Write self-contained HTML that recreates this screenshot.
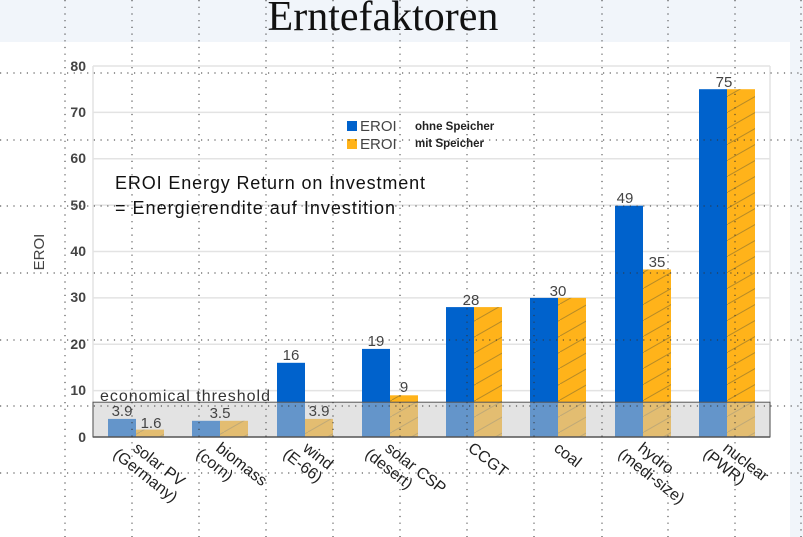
<!DOCTYPE html>
<html><head><meta charset="utf-8"><style>
html,body{margin:0;padding:0;background:#fff;}
svg{display:block;}
</style></head><body>
<svg width="803" height="537" viewBox="0 0 803 537" xmlns="http://www.w3.org/2000/svg" font-family="Liberation Sans, sans-serif">
<defs>
<pattern id="h" patternUnits="userSpaceOnUse" width="28" height="16">
<line x1="0" y1="16" x2="28" y2="0" stroke="#9a7a2a" stroke-width="1" opacity="0.7"/>
</pattern>
</defs>
<rect x="0" y="0" width="803" height="42" fill="#f1f5fa"/>
<rect x="790" y="42" width="13" height="495" fill="#f1f5fa"/>
<text x="383" y="30" text-anchor="middle" font-family="Liberation Serif, serif" font-size="42" fill="#111">Erntefaktoren</text>
<g stroke="#e3e3e3" stroke-width="1.5">
<line x1="93" y1="66" x2="770" y2="66"/><line x1="93" y1="112.4" x2="770" y2="112.4"/>
<line x1="93" y1="158.8" x2="770" y2="158.8"/><line x1="93" y1="205.1" x2="770" y2="205.1"/>
<line x1="93" y1="251.5" x2="770" y2="251.5"/><line x1="93" y1="297.9" x2="770" y2="297.9"/>
<line x1="93" y1="344.3" x2="770" y2="344.3"/><line x1="93" y1="390.6" x2="770" y2="390.6"/>
<line x1="93" y1="66" x2="93" y2="437"/><line x1="770" y1="66" x2="770" y2="437"/>
</g>
<g font-size="14" fill="#444" text-anchor="end" font-weight="bold">
<text x="86" y="71">80</text><text x="86" y="117">70</text><text x="86" y="163">60</text>
<text x="86" y="210">50</text><text x="86" y="256">40</text><text x="86" y="302">30</text>
<text x="86" y="349">20</text><text x="86" y="395">10</text><text x="86" y="442">0</text>
</g>
<text x="44" y="252" transform="rotate(-90 44 252)" text-anchor="middle" font-size="15" fill="#444">EROI</text>
<g>
<rect x="108" y="418.9" width="28" height="18.1" fill="#0062cc"/>
<rect x="136" y="429.6" width="28" height="7.4" fill="#ffb31a"/><rect x="136" y="429.6" width="28" height="7.4" fill="url(#h)"/>
<rect x="192" y="420.8" width="28" height="16.2" fill="#0062cc"/>
<rect x="220" y="420.8" width="28" height="16.2" fill="#ffb31a"/><rect x="220" y="420.8" width="28" height="16.2" fill="url(#h)"/>
<rect x="277" y="362.8" width="28" height="74.2" fill="#0062cc"/>
<rect x="305" y="418.9" width="28" height="18.1" fill="#ffb31a"/><rect x="305" y="418.9" width="28" height="18.1" fill="url(#h)"/>
<rect x="362" y="348.9" width="28" height="88.1" fill="#0062cc"/>
<rect x="390" y="395.3" width="28" height="41.7" fill="#ffb31a"/><rect x="390" y="395.3" width="28" height="41.7" fill="url(#h)"/>
<rect x="446" y="307.1" width="28" height="129.9" fill="#0062cc"/>
<rect x="474" y="307.1" width="28" height="129.9" fill="#ffb31a"/><rect x="474" y="307.1" width="28" height="129.9" fill="url(#h)"/>
<rect x="530" y="297.9" width="28" height="139.1" fill="#0062cc"/>
<rect x="558" y="297.9" width="28" height="139.1" fill="#ffb31a"/><rect x="558" y="297.9" width="28" height="139.1" fill="url(#h)"/>
<rect x="615" y="205.7" width="28" height="231.3" fill="#0062cc"/>
<rect x="643" y="269.5" width="28" height="167.5" fill="#ffb31a"/><rect x="643" y="269.5" width="28" height="167.5" fill="url(#h)"/>
<rect x="699" y="89.2" width="28" height="347.8" fill="#0062cc"/>
<rect x="727" y="89.2" width="28" height="347.8" fill="#ffb31a"/><rect x="727" y="89.2" width="28" height="347.8" fill="url(#h)"/>
</g>
<rect x="93" y="402.2" width="677" height="34.8" fill="#c8c8c8" fill-opacity="0.5" stroke="#555" stroke-width="1"/>
<line x1="93" y1="437" x2="770" y2="437" stroke="#555" stroke-width="1.5"/>
<text x="100" y="401" font-size="16" fill="#333" textLength="170">economical threshold</text>
<g font-size="15" fill="#444" text-anchor="middle">
<text x="122" y="416">3.9</text><text x="151" y="428">1.6</text>
<text x="220" y="418">3.5</text>
<text x="291" y="360">16</text><text x="319" y="416">3.9</text>
<text x="376" y="346">19</text><text x="404" y="392">9</text>
<text x="471" y="305">28</text><text x="558" y="296">30</text>
<text x="625" y="203">49</text><text x="657" y="267">35</text>
<text x="724" y="87">75</text>
</g>
<g font-size="16" fill="#222">
<text transform="translate(132,450) rotate(38)"><tspan x="0" y="0">solar PV</tspan><tspan x="-12" y="17">(Germany)</tspan></text>
<text transform="translate(215,450) rotate(38)"><tspan x="0" y="0">biomass</tspan><tspan x="-12" y="17">(corn)</tspan></text>
<text transform="translate(302,450) rotate(38)"><tspan x="0" y="0">wind</tspan><tspan x="-12" y="17">(E-66)</tspan></text>
<text transform="translate(384,450) rotate(38)"><tspan x="0" y="0">solar CSP</tspan><tspan x="-12" y="17">(desert)</tspan></text>
<text transform="translate(467,450) rotate(38)">CCGT</text>
<text transform="translate(553,450) rotate(38)">coal</text>
<text transform="translate(637,450) rotate(38)"><tspan x="0" y="0">hydro</tspan><tspan x="-12" y="17">(medi-size)</tspan></text>
<text transform="translate(722,450) rotate(38)"><tspan x="0" y="0">nuclear</tspan><tspan x="-12" y="17">(PWR)</tspan></text>
</g>
<rect x="347" y="121" width="10" height="10" fill="#0062cc"/>
<rect x="347" y="139" width="10" height="10" fill="#ffb31a"/>
<text x="360" y="131" font-size="15" fill="#444">EROI</text>
<text x="360" y="149" font-size="15" fill="#444">EROI</text>
<text x="415" y="130" font-size="11.5" font-weight="bold" fill="#222">ohne Speicher</text>
<text x="415" y="147" font-size="11.5" font-weight="bold" fill="#222">mit Speicher</text>
<text x="115" y="189" font-size="18" fill="#111" textLength="310">EROI Energy Return on Investment</text>
<text x="115" y="214" font-size="18" fill="#111" textLength="280">= Energierendite auf Investition</text>
<g stroke="#333" stroke-width="1" stroke-dasharray="1.2 5.5">
<line x1="0" y1="73" x2="803" y2="73"/><line x1="0" y1="140" x2="803" y2="140"/>
<line x1="0" y1="206" x2="803" y2="206"/><line x1="0" y1="273" x2="803" y2="273"/>
<line x1="0" y1="340" x2="803" y2="340"/><line x1="0" y1="406" x2="803" y2="406"/>
<line x1="0" y1="473" x2="803" y2="473"/>
<line x1="65" y1="0" x2="65" y2="537"/><line x1="132" y1="0" x2="132" y2="537"/>
<line x1="199" y1="0" x2="199" y2="537"/><line x1="266" y1="0" x2="266" y2="537"/>
<line x1="333" y1="0" x2="333" y2="537"/><line x1="400" y1="0" x2="400" y2="537"/>
<line x1="467" y1="0" x2="467" y2="537"/><line x1="534" y1="0" x2="534" y2="537"/>
<line x1="602" y1="0" x2="602" y2="537"/><line x1="668" y1="0" x2="668" y2="537"/>
<line x1="735" y1="0" x2="735" y2="537"/><line x1="801" y1="0" x2="801" y2="537"/>
</g>
</svg>
</body></html>
